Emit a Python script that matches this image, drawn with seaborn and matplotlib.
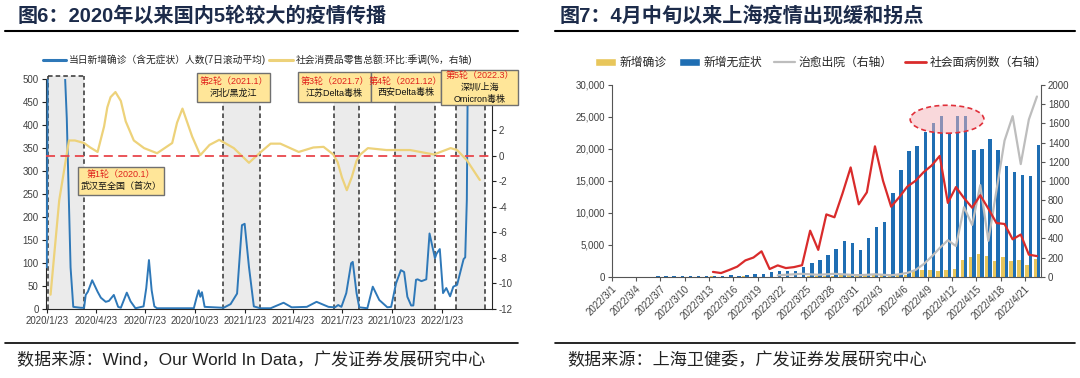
import numpy as np
import pandas as pd
import matplotlib
matplotlib.use('Agg')
import matplotlib.pyplot as plt
import matplotlib.dates as mdates
from matplotlib.patches import Rectangle, Ellipse, Patch
from matplotlib.lines import Line2D
from matplotlib.ticker import FuncFormatter
import seaborn as sns

sns.set_style('ticks')
plt.rcParams['font.family'] = ['Liberation Sans', 'Noto Sans CJK SC']
plt.rcParams['axes.unicode_minus'] = False

# ---------- 图6 data ----------
case_dates = ['2020-01-23', '2020-01-25', '2020-02-05', '2020-02-15', '2020-02-26', '2020-02-29',
              '2020-03-07', '2020-03-12', '2020-03-26', '2020-04-01', '2020-04-04', '2020-04-08',
              '2020-04-16', '2020-04-26', '2020-05-02', '2020-05-11', '2020-05-17', '2020-05-26',
              '2020-06-03', '2020-06-08', '2020-06-19', '2020-06-26', '2020-07-05', '2020-07-20',
              '2020-07-25', '2020-07-30', '2020-08-04', '2020-08-09', '2020-08-14', '2020-10-21',
              '2020-10-26', '2020-10-30', '2020-11-02', '2020-11-05', '2020-11-10', '2020-12-15',
              '2020-12-28', '2021-01-09', '2021-01-18', '2021-01-23', '2021-01-31', '2021-02-09',
              '2021-02-21', '2021-03-12', '2021-04-05', '2021-04-20', '2021-05-18', '2021-06-05',
              '2021-06-27', '2021-07-09', '2021-07-15', '2021-07-21', '2021-07-30', '2021-08-08',
              '2021-08-11', '2021-08-18', '2021-08-23', '2021-09-07', '2021-09-17', '2021-09-29',
              '2021-10-14', '2021-10-21', '2021-10-30', '2021-11-08', '2021-11-14', '2021-11-20',
              '2021-11-27', '2021-12-01', '2021-12-06', '2021-12-09', '2021-12-16', '2021-12-25',
              '2021-12-31', '2022-01-10', '2022-01-13', '2022-01-19', '2022-01-25', '2022-01-31',
              '2022-02-07', '2022-02-13', '2022-02-20', '2022-02-26', '2022-03-04', '2022-03-07',
              '2022-03-10', '2022-03-12', '2022-03-20', '2022-04-01', '2022-04-10', '2022-04-20']
case_vals = [90, 600, 2500, 3000, 500, 415,
             90, 4, 2, 2, 30, 37,
             62, 37, 24, 15, 17, 30,
             4, 2, 35, 16, 1, 5,
             45, 106, 40, 5, 1, 1,
             24, 40, 26, 36, 4, 2,
             10, 33, 182, 185, 91, 5,
             1, 1, 13, 3, 4, 15,
             4, 3, 8, 4, 34, 99,
             102, 34, 3, 1, 48, 19,
             3, 4, 55, 84, 80, 26,
             7, 7, 63, 64, 60, 64,
             164, 110, 120, 130, 34, 45,
             27, 48, 52, 80, 108, 112,
             237, 550, 2500, 8000, 20000, 22000]

retail_dates = ['2020-01-30', '2020-02-15', '2020-03-04', '2020-03-15', '2020-04-01', '2020-04-12',
                '2020-04-26', '2020-05-08', '2020-05-14', '2020-05-20', '2020-05-29', '2020-06-08',
                '2020-06-17', '2020-07-02', '2020-07-21', '2020-08-14', '2020-09-11', '2020-09-20',
                '2020-09-30', '2020-10-09', '2020-10-18', '2020-11-02', '2020-11-19', '2020-12-07',
                '2021-01-03', '2021-01-31', '2021-02-22', '2021-03-12', '2021-03-30', '2021-05-03',
                '2021-05-30', '2021-06-18', '2021-07-06', '2021-07-14', '2021-07-22', '2021-07-31',
                '2021-08-09', '2021-08-18', '2021-08-25', '2021-09-08', '2021-10-12', '2021-11-25',
                '2022-01-08', '2022-02-08', '2022-02-20', '2022-03-10', '2022-04-03']
retail_vals = [-10.9, -3.5, 1.2, 1.2, 1.0, 0.66,
               0.3, 2.3, 3.8, 4.6, 5.0, 4.3,
               2.7, 1.2, 0.6, 0.2, 1.0, 2.6,
               3.7, 2.6, 1.5, 0.05, 0.85, 1.25,
               0.6, -0.55, 0.3, 0.95, 0.95, 0.3,
               0.65, 0.7, 0.1, -0.5, -1.7, -2.7,
               -1.7, -0.4, 0.1, 0.6, 0.45, 0.45,
               0.1, 0.6, 0.45, -0.35, -1.9]

wave_start = ['2020-01-25', '2020-12-14', '2021-07-08', '2021-10-28', '2022-02-18']
wave_end = ['2020-04-01', '2021-02-21', '2021-08-22', '2022-01-11', '2022-04-12']
wave_titles = ['第1轮（2020.1）', '第2轮（2021.1）', '第3轮（2021.7）', '第4轮（2021.12）', '第5轮（2022.3）']
wave_notes = ['武汉至全国（首次）', '河北/黑龙江', '江苏Delta毒株', '西安Delta毒株', '深圳/上海\nOmicron毒株']

left_xticks = ['2020-01-23', '2020-04-23', '2020-07-23', '2020-10-23', '2021-01-23',
               '2021-04-23', '2021-07-23', '2021-10-23', '2022-01-23']
left_xlabels = ['2020/1/23', '2020/4/23', '2020/7/23', '2020/10/23', '2021/1/23',
                '2021/4/23', '2021/7/23', '2021/10/23', '2022/1/23']

# ---------- 图7 data ----------
sh_dates = [f'2022/{d.month}/{d.day}' for d in pd.date_range('2022-03-01', '2022-04-22')]
confirmed = [1, 0, 2, 3, 2, 3, 4, 3, 4, 11, 5, 1,
             41, 5, 5, 8, 57, 8, 17, 24, 31, 4, 4, 29,
             38, 45, 50, 100, 330, 350, 350, 260, 430, 420, 270, 310,
             320, 830, 1040, 1000, 920, 1000, 1150, 2550, 3100, 3500, 3200, 2420,
             3050, 2450, 2650, 1900, 2800]
asymptomatic = [2, 3, 14, 16, 28, 45, 51, 62, 76, 64, 78, 64,
                128, 130, 197, 150, 230, 400, 500, 700, 850, 960, 960, 1570,
                2200, 2620, 3450, 4370, 5620, 5290, 4140, 6030, 7800, 8590, 13090, 16750,
                19700, 20400, 22650, 24000, 25200, 22450, 25150, 25150, 19850, 19950, 21600, 19850,
                17350, 16450, 15860, 15700, 20650]
social_start = 12
social = [50, 38, 70, 105, 170, 200, 265, 80, 118, 90,
          100, 120, 480, 280, 650, 620, 870, 1140, 755, 880,
          1360, 1000, 730, 830, 940, 1000, 1090, 1160, 1260, 770,
          935, 820, 720, 850, 710, 560, 550, 390, 440, 230, 215]
discharged_start = 20
discharged = [15, 20, 25, 30, 25, 20, 25, 30, 25, 20,
              15, 20, 25, 20, 15, 25, 40, 70, 130, 210,
              300, 380, 320, 725, 540, 955, 375, 900, 1420, 1675,
              1175, 1640, 1880]

# colours
c_case = '#2E78B8'
c_retail = '#EDD27A'
c_shade = '#EBEBEB'
c_box = '#FFE699'
c_yellow = '#E8C65B'
c_blue = '#1F6EB3'
c_gray = '#BDBDBD'
c_red = '#D92B2B'
c_tick = '#404040'

W, H = 1080, 378
def fx(x):
    return x / W
def fy(y):
    return 1 - y / H

fig = plt.figure(figsize=(10.8, 3.78), dpi=100)

# ================= 图6 =================
ax1 = fig.add_axes([fx(45.7), fy(308.7), 446 / W, 229.4 / H])
ax1r = ax1.twinx()

for i, (s, e) in enumerate(zip(wave_start, wave_end)):
    s_n = mdates.date2num(pd.Timestamp(s))
    e_n = mdates.date2num(pd.Timestamp(e))
    top = 507 if i == 0 else 500
    ax1.add_patch(Rectangle((s_n, 0), e_n - s_n, top, fc=c_shade, ec='none', lw=0, zorder=0, clip_on=False))
    for xx in (s_n, e_n):
        ax1.plot([xx, xx], [0, top], ls=(0, (3, 2)), color='#333333', lw=1.1, clip_on=False, zorder=1)
    if i == 0:
        ax1.plot([s_n, e_n], [top, top], ls=(0, (3, 2)), color='#333333', lw=1.1, clip_on=False, zorder=1)

sns.lineplot(x=pd.to_datetime(case_dates), y=case_vals, ax=ax1, color=c_case, lw=1.4, zorder=3)
sns.lineplot(x=pd.to_datetime(retail_dates), y=retail_vals, ax=ax1r, color=c_retail, lw=1.6)
ax1r.axhline(0, color='#E8474C', ls=(0, (5, 3)), lw=1.3)

ax1.set_xlim(pd.Timestamp('2020-01-21'), pd.Timestamp('2022-04-25'))
ax1.set_ylim(0, 500)
ax1.set_yticks(range(0, 501, 50))
ax1r.set_ylim(-12, 6)
ax1r.set_yticks(range(-12, 3, 2))
ax1.set_xticks(pd.to_datetime(left_xticks))
ax1.set_xticklabels(left_xlabels)
for a in (ax1, ax1r):
    a.set_xlabel('')
    a.set_ylabel('')
    a.spines['top'].set_visible(False)
    a.tick_params(labelsize=7, length=3, width=0.8, colors='#222222', labelcolor=c_tick, pad=2)
ax1.spines['right'].set_visible(False)
ax1r.spines['left'].set_visible(False)
ax1r.spines['bottom'].set_visible(False)

ax1.legend(handles=[Line2D([], [], color=c_case, lw=2.2), Line2D([], [], color=c_retail, lw=2.2)],
           labels=['当日新增确诊（含无症状）人数(7日滚动平均)', '社会消费品零售总额:环比:季调(%，右轴)'],
           ncol=2, loc='center', bbox_to_anchor=(0.475, 1.084), frameon=False, fontsize=7,
           handlelength=2.4, columnspacing=0.3, handletextpad=0.3)

boxes = [(77.7, 166.7, 164.3, 195.0), (196.7, 73.3, 270, 101.7), (298.3, 71.7, 370.7, 102.3),
         (370.7, 71.7, 440.7, 102.3), (440.7, 70, 518.3, 105)]
for (x0, y0, x1, y1), t, n in zip(boxes, wave_titles, wave_notes):
    fig.add_artist(Rectangle((fx(x0), fy(y1)), (x1 - x0) / W, (y1 - y0) / H, transform=fig.transFigure,
                             fc=c_box, ec='#707070', lw=1, zorder=10))
    lines = [t] + n.split('\n')
    cy = (y0 + y1) / 2
    for k, ln in enumerate(lines):
        yy = cy + (k - (len(lines) - 1) / 2) * 12
        fig.text(fx((x0 + x1) / 2), fy(yy), ln, ha='center', va='center', fontsize=6.5,
                 color='#E0201B' if k == 0 else '#111111', zorder=11)

# ================= 图7 =================
ax2 = fig.add_axes([fx(611.7), fy(276.7), 429.3 / W, 191.7 / H])
bars = pd.DataFrame({'date': sh_dates * 2,
                     'value': confirmed + asymptomatic,
                     'series': ['新增确诊'] * len(sh_dates) + ['新增无症状'] * len(sh_dates)})
sns.barplot(data=bars, x='date', y='value', hue='series', order=sh_dates,
            hue_order=['新增确诊', '新增无症状'], palette=[c_yellow, c_blue], saturation=1,
            width=0.85, errorbar=None, legend=False, edgecolor='none', linewidth=0, ax=ax2)
ax2.add_patch(Ellipse((40.9, 24640), 9.1, 4375, fc=(0.96, 0.70, 0.72, 0.5), ec='#E0303A',
                      ls=(0, (3, 2)), lw=1.2, zorder=5))

ax2r = ax2.twinx()
sns.lineplot(x=np.arange(discharged_start, discharged_start + len(discharged)), y=discharged,
             ax=ax2r, color=c_gray, lw=1.6)
sns.lineplot(x=np.arange(social_start, social_start + len(social)), y=social,
             ax=ax2r, color=c_red, lw=1.6)

ax2.set_xlim(-0.5, len(sh_dates) - 0.5)
ax2.set_ylim(0, 30000)
ax2.set_yticks(range(0, 30001, 5000))
ax2.yaxis.set_major_formatter(FuncFormatter(lambda v, p: f'{int(v):,}'))
ax2r.set_ylim(0, 2000)
ax2r.set_yticks(range(0, 2001, 200))
ax2.set_xticks(np.arange(0, len(sh_dates), 3) - 0.5)
ax2.set_xticklabels(sh_dates[::3], rotation=45, ha='right', rotation_mode='anchor')
for a in (ax2, ax2r):
    a.set_xlabel('')
    a.set_ylabel('')
    a.spines['top'].set_visible(False)
    for sp in a.spines.values():
        sp.set_color('#555555')
    a.tick_params(labelsize=7, length=3, width=0.8, colors='#555555', labelcolor=c_tick, pad=2)
ax2.spines['right'].set_visible(False)
ax2r.spines['left'].set_visible(False)
ax2r.spines['bottom'].set_visible(False)

ax2.legend(handles=[Patch(fc=c_yellow), Patch(fc=c_blue),
                    Line2D([], [], color=c_gray, lw=1.6), Line2D([], [], color=c_red, lw=2)],
           labels=['新增确诊', '新增无症状', '治愈出院（右轴）', '社会面病例数（右轴）'],
           ncol=4, loc='center', bbox_to_anchor=(0.4875, 1.115), frameon=False, fontsize=8.5,
           handlelength=1.8, handleheight=0.6, columnspacing=1.0, handletextpad=0.3)

# ================= titles, rules, sources =================
title_color = '#1C2B4A'
fig.text(fx(18), fy(16), '图6：2020年以来国内5轮较大的疫情传播', fontsize=14.5, weight='bold',
         color=title_color, va='center', ha='left')
fig.text(fx(560), fy(16), '图7：4月中旬以来上海疫情出现缓和拐点', fontsize=14.5, weight='bold',
         color=title_color, va='center', ha='left')
for x0, x1 in ((5, 518), (555, 1075)):
    fig.add_artist(Line2D([fx(x0), fx(x1)], [fy(31), fy(31)], transform=fig.transFigure, color='black', lw=1.5))
    fig.add_artist(Line2D([fx(x0), fx(x1)], [fy(343), fy(343)], transform=fig.transFigure, color='black', lw=1.2))
fig.text(fx(17), fy(360), '数据来源：Wind，Our World In Data，广发证券发展研究中心', fontsize=12.3,
         color='#222222', va='center', ha='left')
fig.text(fx(567), fy(360), '数据来源：上海卫健委，广发证券发展研究中心', fontsize=12.3,
         color='#222222', va='center', ha='left')

fig.savefig('out.png', dpi=100)
